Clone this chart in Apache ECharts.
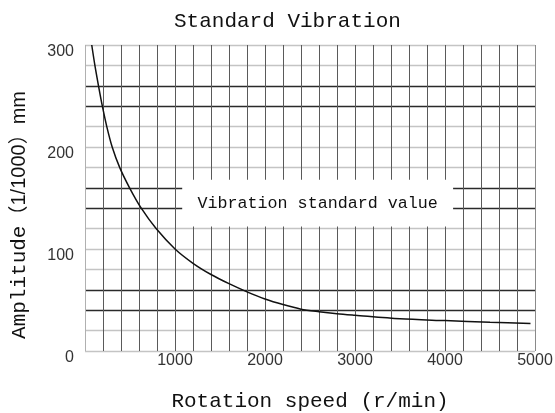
<!DOCTYPE html>
<html>
<head>
<meta charset="utf-8">
<script src="https://cdn.jsdelivr.net/npm/echarts@6/dist/echarts.min.js"></script>
<style>
  html, body { margin: 0; padding: 0; background: #fff; }
  #chart { width: 555px; height: 413px; }
</style>
</head>
<body>
<div id="chart"></div>
<script>
// Rotation speed (r/min) and the matching permissible vibration amplitude (1/1000 mm)
const speeds     = [75, 110, 150, 193, 242, 302, 385, 495, 625, 790, 1000, 1200, 1400, 1600, 1800, 2000, 2200, 2400, 2600, 2800, 3000, 3500, 4000, 4500, 4950];
const amplitudes = [300, 280, 260, 240, 220, 200, 180, 160, 140, 120, 100, 86, 75, 66, 58, 51, 45.5, 41, 38.5, 36.5, 35, 31.5, 29.8, 28.2, 27];

// Tick labels shown along each axis
const xTickLabels = [1000, 2000, 3000, 4000, 5000];
const yTickLabels = [0, 100, 200, 300];

// Texts
const titleText = 'Standard Vibration';
const xName = 'Rotation speed (r/min)';
const yNameWord = 'Amplitude';
const yNameUnit = '（1/1000）mm';
const noteText = 'Vibration standard value';

// Horizontal grid lines every 20 units (0..300): pairs of dark reference lines
const LIGHT = '#c4c4c4', DARK = '#2a2a2a';
const hLineColors = [LIGHT, LIGHT, DARK, DARK, LIGHT, LIGHT, LIGHT, DARK, DARK,
                     LIGHT, LIGHT, LIGHT, DARK, DARK, LIGHT, LIGHT];
// Vertical grid lines every 200 r/min (0..5000)
const vLineColors = ['#b0b0b0'].concat(new Array(24).fill('#5a5a5a'), ['#8a8a8a']);

// White panel behind the note text
const notePanel = { x0: 1080, x1: 4090, y0: 122, y1: 168 };

const monoFont = 'Liberation Mono';
const sansFont = 'Liberation Sans';

const chart = echarts.init(document.getElementById('chart'), null, { renderer: 'canvas' });

chart.setOption({
  animation: false,
  backgroundColor: '#fff',
  title: {
    text: titleText,
    left: 169,
    top: 6,
    textStyle: { fontFamily: monoFont, fontSize: 21, fontWeight: 'normal', color: '#111' }
  },
  grid: { left: 85, right: 20, top: 45, bottom: 62, containLabel: false, outerBoundsMode: 'none' },
  xAxis: {
    type: 'value',
    min: 0, max: 5000, interval: 200,
    name: xName,
    nameLocation: 'middle',
    nameGap: 40,
    nameTextStyle: { fontFamily: monoFont, fontSize: 21, color: '#111' },
    axisLine: { show: false },
    axisTick: { show: false },
    axisLabel: {
      margin: 2,
      fontFamily: sansFont, fontSize: 16, color: '#333',
      formatter: v => (xTickLabels.indexOf(v) >= 0 ? String(v) : '')
    },
    splitLine: { show: true, lineStyle: { color: vLineColors, width: 1 } }
  },
  yAxis: {
    type: 'value',
    min: 0, max: 300, interval: 20,
    name: '{w|' + yNameWord + '}{u|' + yNameUnit + '}',
    nameLocation: 'middle',
    nameRotate: 90,
    nameGap: 55,
    nameTextStyle: {
      padding: [0, 34, 0, 0],
      rich: {
        w: { fontFamily: monoFont, fontSize: 21, color: '#111' },
        u: { fontFamily: sansFont + ', Noto Sans CJK SC', fontSize: 20, color: '#111' }
      }
    },
    axisLine: { show: false },
    axisTick: { show: false },
    axisLabel: {
      margin: 11,
      verticalAlign: 'top',
      lineHeight: 13,
      fontFamily: sansFont, fontSize: 16, color: '#333',
      formatter: v => (yTickLabels.indexOf(v) >= 0 ? String(v) : '')
    },
    splitLine: { show: true, lineStyle: { color: hLineColors, width: 1.4 } }
  },
  series: [{
    type: 'line',
    data: speeds.map((s, i) => [s, amplitudes[i]]),
    smooth: 0.3,
    showSymbol: false,
    lineStyle: { color: '#111', width: 1.5 },
    markArea: {
      silent: true,
      itemStyle: { color: '#fff', opacity: 1 },
      label: {
        show: true,
        position: 'inside',
        fontFamily: monoFont, fontSize: 16.7, color: '#111'
      },
      data: [[
        { name: noteText, coord: [notePanel.x0, notePanel.y1] },
        { coord: [notePanel.x1, notePanel.y0] }
      ]]
    }
  }]
});
</script>
</body>
</html>
